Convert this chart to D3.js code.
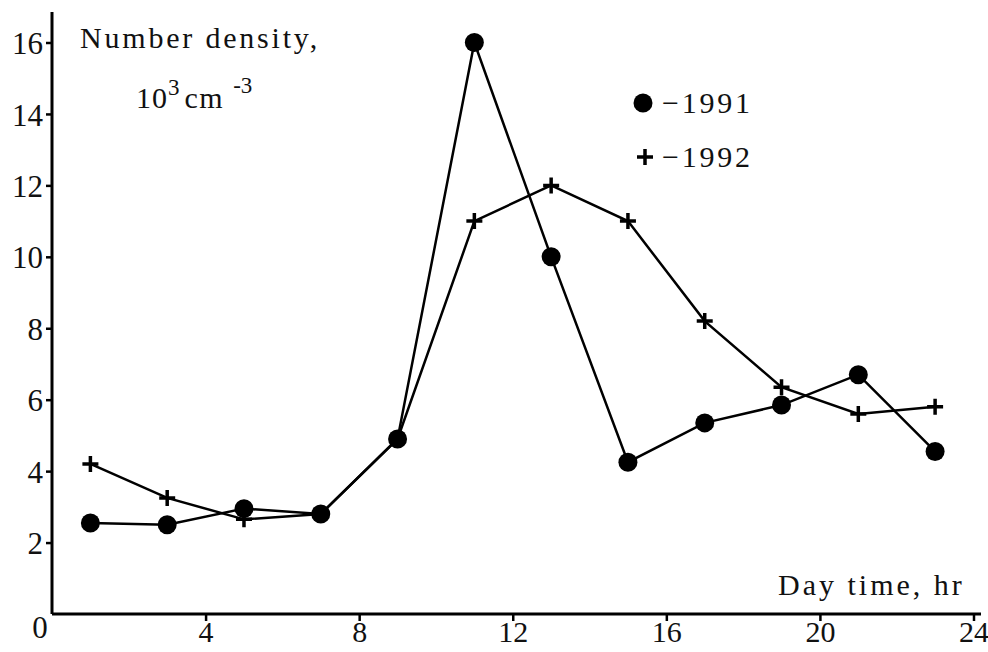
<!DOCTYPE html>
<html>
<head>
<meta charset="utf-8">
<script src="https://cdn.jsdelivr.net/npm/d3@7"></script>
<style>
  body { margin: 0; background: #fff; }
  svg { display: block; font-family: "Liberation Serif", "DejaVu Serif", serif; }
</style>
</head>
<body>
<svg width="988" height="652"></svg>
<script>
// hours of the day (x)
const hours = [1, 3, 5, 7, 9, 11, 13, 15, 17, 19, 21, 23];
// number density, 10^3 cm^-3
const y1991 = [2.55, 2.5, 2.95, 2.8, 4.9, 16, 10, 4.25, 5.35, 5.85, 6.7, 4.55];
const y1992 = [4.2, 3.25, 2.65, 2.8, 4.9, 11, 12, 11, 8.2, 6.35, 5.6, 5.8];
const xTicks = [4, 8, 12, 16, 20, 24];
const yTicks = [2, 4, 6, 8, 10, 12, 14, 16];

const svg = d3.select('svg');

const x = d3.scaleLinear().domain([0, 24]).range([52, 973.5]);
const y = d3.scaleLinear().domain([0, 16]).range([614, 42.5]);

// axes
const xAxis = svg.append('g')
    .attr('transform', `translate(0,${y(0)})`)
    .call(d3.axisBottom(x).tickValues(xTicks).tickSize(7).tickSizeOuter(0).tickPadding(3));
xAxis.select('.domain').attr('d', `M${x(0)},0H981`);

const yAxis = svg.append('g')
    .attr('transform', `translate(${x(0)},0)`)
    .call(d3.axisLeft(y).tickValues(yTicks).tickSize(6).tickSizeOuter(0).tickPadding(3));
yAxis.select('.domain').attr('d', `M0,${y(0)}V12`);

svg.selectAll('.domain').attr('stroke', '#000').attr('stroke-width', 3);
svg.selectAll('.tick line').attr('stroke', '#000').attr('stroke-width', 2.5);
svg.selectAll('.tick text')
    .attr('fill', '#111')
    .attr('font-size', 31)
    .attr('font-family', '"Liberation Serif", serif');
xAxis.selectAll('.tick text').attr('font-size', 30).attr('dy', '0.6em');
yAxis.selectAll('.tick text').attr('dy', '0.36em');

// "0" at origin
svg.append('text')
    .attr('x', 40).attr('y', 638)
    .attr('text-anchor', 'middle')
    .attr('font-size', 31).attr('fill', '#111')
    .text('0');

// lines
const line = d3.line()
    .x((d, i) => x(hours[i]))
    .y(d => y(d));

svg.append('path')
    .datum(y1991)
    .attr('d', line)
    .attr('fill', 'none').attr('stroke', '#000').attr('stroke-width', 2.5);

svg.append('path')
    .datum(y1992)
    .attr('d', line)
    .attr('fill', 'none').attr('stroke', '#000').attr('stroke-width', 2.5);

// markers
svg.append('g')
    .selectAll('circle')
    .data(y1991)
    .join('circle')
    .attr('cx', (d, i) => x(hours[i]))
    .attr('cy', d => y(d))
    .attr('r', 9.5)
    .attr('fill', '#000');

const pl = 8;
svg.append('g')
    .selectAll('path')
    .data(y1992)
    .join('path')
    .attr('transform', (d, i) => `translate(${x(hours[i])},${y(d)})`)
    .attr('d', `M${-pl},0H${pl}M0,${-pl}V${pl}`)
    .attr('stroke', '#000')
    .attr('stroke-width', 3.5);

// y-axis label
svg.append('text')
    .attr('x', 80).attr('y', 48)
    .attr('font-size', 30).attr('letter-spacing', 2.8).attr('fill', '#111')
    .text('Number density,');

const unit = svg.append('text')
    .attr('x', 136).attr('y', 108)
    .attr('font-size', 30).attr('fill', '#111');
unit.append('tspan').attr('letter-spacing', 1).text('10');
unit.append('tspan').attr('dy', -13).attr('font-size', 23).text('3');
unit.append('tspan').attr('dy', 13).attr('dx', 5).attr('letter-spacing', 1.5).text('cm');
unit.append('tspan').attr('dy', -15).attr('dx', 9).attr('font-size', 23).text('-3');

// x-axis label
svg.append('text')
    .attr('x', 778).attr('y', 595)
    .attr('font-size', 30).attr('letter-spacing', 3).attr('fill', '#111')
    .text('Day time, hr');

// legend
svg.append('circle')
    .attr('cx', 643).attr('cy', 103).attr('r', 9.5).attr('fill', '#000');
svg.append('text')
    .attr('x', 662).attr('y', 113)
    .attr('font-size', 30).attr('letter-spacing', 2.8).attr('fill', '#111')
    .text('\u22121991');

svg.append('path')
    .attr('transform', 'translate(645,157)')
    .attr('d', 'M-8,0H8M0,-8V8')
    .attr('stroke', '#000').attr('stroke-width', 3.5);
svg.append('text')
    .attr('x', 662).attr('y', 167)
    .attr('font-size', 30).attr('letter-spacing', 2.8).attr('fill', '#111')
    .text('\u22121992');
</script>
</body>
</html>
